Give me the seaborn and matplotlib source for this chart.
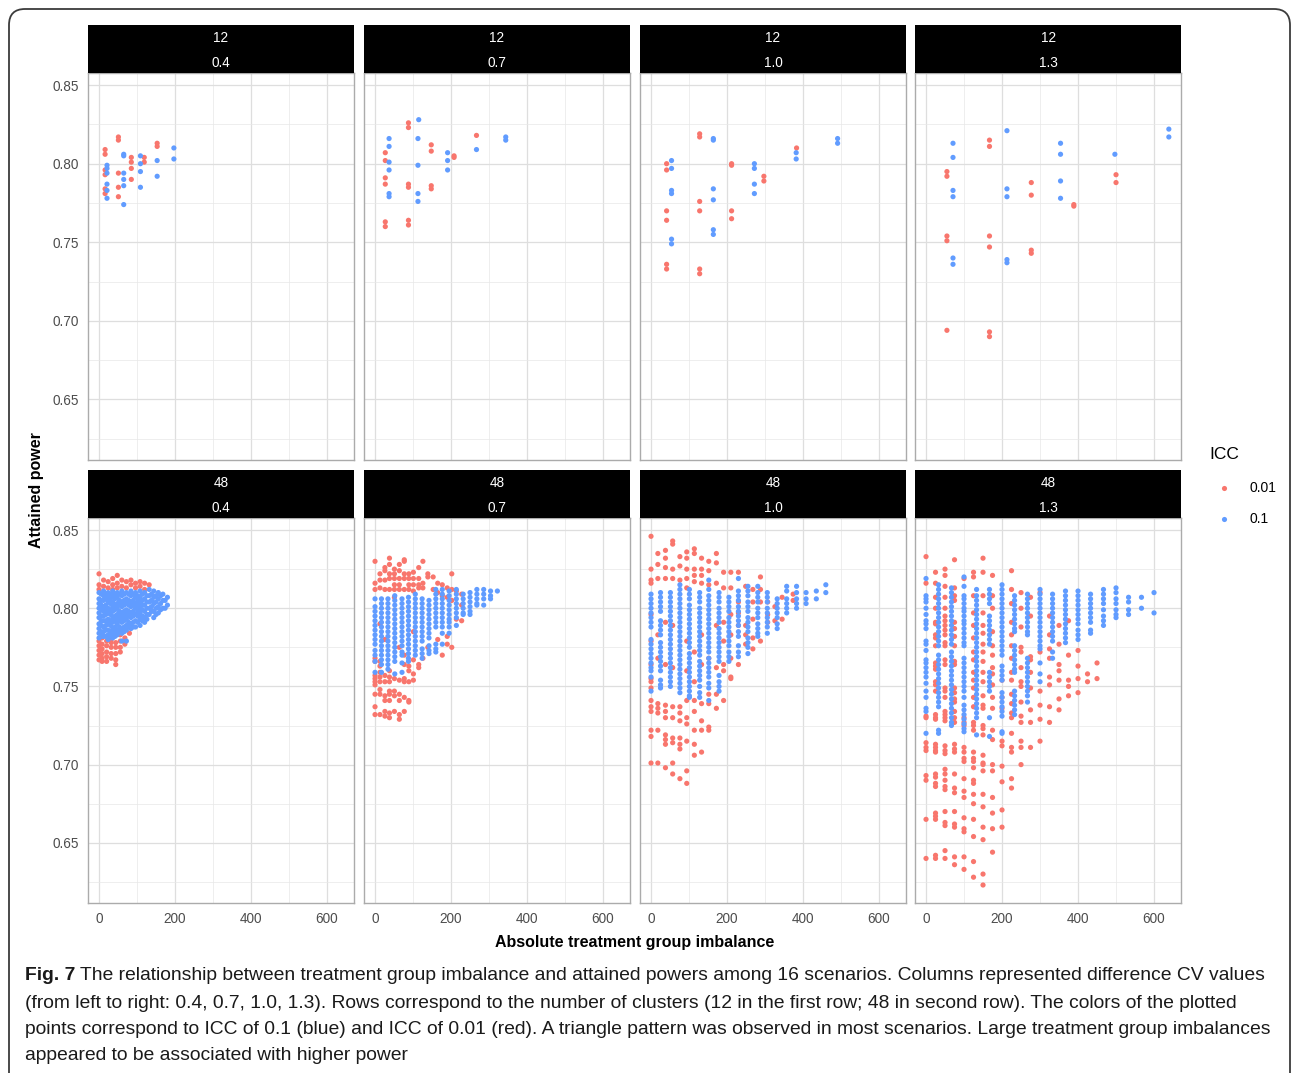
import matplotlib
matplotlib.use("Agg")
import matplotlib.pyplot as plt
import matplotlib.transforms as mtransforms
from matplotlib.patches import FancyBboxPatch
from matplotlib.lines import Line2D
import pandas as pd
import seaborn as sns

# ---------------- data ----------------
ICC_ORDER = ["0.01", "0.1"]
PALETTE = {"0.01": "#F8766D", "0.1": "#619CFF"}
CLUSTERS = [12, 48]
CVS = ["0.4", "0.7", "1.0", "1.3"]
X_TICKS = [0, 200, 400, 600]
Y_TICKS = [0.65, 0.70, 0.75, 0.80, 0.85]

# ---- 12 clusters (top row): explicit points ----
t04_red_x = [51, 51, 16, 16, 153, 153, 85, 85, 119, 119, 16, 16, 51, 85, 85, 16, 16, 51, 51]
t04_red_y = [0.817, 0.815, 0.809, 0.806, 0.813, 0.811, 0.804, 0.801, 0.804, 0.801, 0.796, 0.793,
             0.794, 0.797, 0.790, 0.784, 0.781, 0.785, 0.779]
t04_blue_x = [65, 65, 109, 109, 197, 197, 153, 21, 21, 21, 65, 65, 65, 109, 109, 153, 21, 21, 21, 65]
t04_blue_y = [0.806, 0.805, 0.805, 0.800, 0.810, 0.803, 0.802, 0.799, 0.797, 0.794, 0.794, 0.790,
              0.786, 0.795, 0.785, 0.792, 0.787, 0.783, 0.778, 0.774]

t07_red_x = [88, 88, 27, 27, 148, 148, 208, 208, 267, 27, 27, 88, 88, 148, 148, 27, 27, 88, 88]
t07_red_y = [0.826, 0.823, 0.807, 0.802, 0.812, 0.808, 0.805, 0.804, 0.818, 0.791, 0.787, 0.787,
             0.785, 0.786, 0.784, 0.763, 0.760, 0.764, 0.761]
t07_blue_x = [115, 37, 37, 113, 37, 37, 113, 191, 191, 191, 267, 344, 344, 37, 37, 113, 113]
t07_blue_y = [0.828, 0.816, 0.811, 0.816, 0.801, 0.796, 0.799, 0.807, 0.802, 0.796, 0.809, 0.817,
              0.815, 0.781, 0.779, 0.781, 0.776]

t10_red_x = [128, 128, 41, 41, 212, 212, 297, 297, 383, 41, 41, 128, 128, 212, 212, 41, 41, 128, 128]
t10_red_y = [0.819, 0.817, 0.800, 0.796, 0.800, 0.799, 0.792, 0.789, 0.810, 0.770, 0.764, 0.776,
             0.770, 0.770, 0.765, 0.736, 0.733, 0.733, 0.730]
t10_blue_x = [164, 164, 54, 54, 272, 272, 382, 382, 491, 491, 54, 54, 164, 164, 272, 272, 164, 164, 54, 54]
t10_blue_y = [0.816, 0.815, 0.802, 0.797, 0.800, 0.797, 0.807, 0.803, 0.816, 0.813, 0.783, 0.781,
              0.784, 0.777, 0.787, 0.781, 0.758, 0.755, 0.752, 0.749]

t13_red_x = [167, 167, 55, 55, 277, 277, 389, 389, 500, 500, 55, 55, 167, 167, 277, 277, 55, 167, 167]
t13_red_y = [0.815, 0.811, 0.795, 0.792, 0.788, 0.780, 0.774, 0.773, 0.793, 0.788, 0.754, 0.751,
             0.754, 0.747, 0.745, 0.743, 0.694, 0.693, 0.690]
t13_blue_x = [213, 71, 71, 354, 354, 497, 639, 639, 71, 71, 213, 213, 354, 354, 71, 71, 213, 213]
t13_blue_y = [0.821, 0.813, 0.804, 0.813, 0.806, 0.806, 0.822, 0.817, 0.783, 0.779, 0.784, 0.779,
              0.789, 0.778, 0.740, 0.736, 0.739, 0.737]

# ---- 48 clusters (bottom row): imbalance value -> attained powers ----
b04_red = {
    0: [0.822, 0.815, 0.812, 0.779, 0.776, 0.773, 0.770, 0.767],
    8: [0.781, 0.777, 0.774, 0.771, 0.768, 0.766],
    12: [0.818, 0.814],
    20: [0.779, 0.776, 0.772, 0.769, 0.766],
    24: [0.817, 0.813],
    32: [0.780, 0.778, 0.775, 0.771, 0.768],
    36: [0.819, 0.815, 0.812],
    44: [0.778, 0.775, 0.771, 0.767, 0.764],
    48: [0.821, 0.816, 0.813],
    56: [0.783, 0.779, 0.775, 0.772],
    60: [0.818, 0.814],
    68: [0.781, 0.777],
    72: [0.817, 0.813],
    80: [0.784],
    84: [0.818, 0.815],
    96: [0.816, 0.813],
    108: [0.817, 0.814],
    120: [0.816, 0.812],
    132: [0.815],
}
b04_blue = {
    0: [0.810, 0.806, 0.803, 0.800, 0.797, 0.794, 0.790, 0.787, 0.784, 0.781],
    6: [0.809, 0.805, 0.802, 0.799, 0.795, 0.792, 0.789, 0.785, 0.782],
    12: [0.811, 0.808, 0.805, 0.801, 0.798, 0.795, 0.792, 0.788, 0.785, 0.782],
    18: [0.809, 0.806, 0.802, 0.799, 0.796, 0.792, 0.789, 0.786, 0.782],
    24: [0.810, 0.807, 0.804, 0.800, 0.797, 0.793, 0.790, 0.786, 0.783, 0.780],
    30: [0.809, 0.806, 0.803, 0.799, 0.796, 0.792, 0.789, 0.785, 0.782],
    36: [0.811, 0.808, 0.804, 0.801, 0.798, 0.794, 0.791, 0.787, 0.784, 0.781],
    42: [0.809, 0.806, 0.802, 0.799, 0.795, 0.792, 0.788, 0.785, 0.782],
    48: [0.810, 0.807, 0.803, 0.800, 0.796, 0.793, 0.790, 0.786, 0.783],
    54: [0.809, 0.805, 0.802, 0.798, 0.795, 0.792, 0.788, 0.785],
    60: [0.811, 0.808, 0.804, 0.801, 0.797, 0.794, 0.791, 0.787, 0.784, 0.779],
    66: [0.809, 0.805, 0.802, 0.798, 0.795, 0.792, 0.788, 0.785],
    72: [0.810, 0.806, 0.803, 0.799, 0.796, 0.793, 0.789, 0.786, 0.779],
    78: [0.809, 0.805, 0.802, 0.798, 0.795, 0.791, 0.788],
    84: [0.811, 0.808, 0.804, 0.801, 0.797, 0.794, 0.790, 0.787],
    90: [0.809, 0.805, 0.802, 0.798, 0.795, 0.791, 0.788],
    96: [0.810, 0.807, 0.803, 0.800, 0.796, 0.792, 0.788],
    102: [0.808, 0.805, 0.802, 0.798, 0.795, 0.791],
    108: [0.811, 0.807, 0.804, 0.800, 0.797, 0.793, 0.789],
    114: [0.809, 0.805, 0.802, 0.799, 0.795, 0.792],
    120: [0.810, 0.806, 0.802, 0.798, 0.794, 0.791],
    126: [0.808, 0.804, 0.800, 0.796, 0.793],
    132: [0.812, 0.808, 0.804, 0.800, 0.796],
    138: [0.809, 0.805, 0.801, 0.798],
    144: [0.811, 0.807, 0.803, 0.798, 0.794],
    150: [0.808, 0.804, 0.800, 0.796],
    156: [0.810, 0.806, 0.801, 0.797],
    162: [0.808, 0.803, 0.799],
    168: [0.809, 0.805, 0.800],
    174: [0.805, 0.800],
    180: [0.807, 0.802],
}

b07_red = {
    0: [0.830, 0.816, 0.812, 0.768, 0.766, 0.757, 0.755, 0.753, 0.751, 0.745, 0.737, 0.732],
    13: [0.822, 0.818, 0.813, 0.790, 0.766, 0.763, 0.759, 0.756, 0.753, 0.748, 0.745, 0.732],
    26: [0.826, 0.824, 0.818, 0.812, 0.780, 0.757, 0.753, 0.744, 0.741, 0.734, 0.731],
    38: [0.832, 0.828, 0.822, 0.819, 0.812, 0.760, 0.756, 0.753, 0.747, 0.745, 0.741, 0.733, 0.730],
    51: [0.825, 0.822, 0.819, 0.815, 0.812, 0.807, 0.755, 0.747, 0.744, 0.734],
    64: [0.828, 0.824, 0.819, 0.815, 0.812, 0.775, 0.754, 0.745, 0.741, 0.732, 0.729],
    77: [0.831, 0.830, 0.822, 0.819, 0.812, 0.770, 0.764, 0.755, 0.753, 0.743, 0.734],
    89: [0.822, 0.819, 0.815, 0.812, 0.763, 0.760, 0.753, 0.741, 0.740],
    101: [0.823, 0.819, 0.815, 0.811, 0.785, 0.767, 0.758, 0.754],
    115: [0.826, 0.819, 0.815, 0.813, 0.764, 0.762],
    126: [0.830, 0.816, 0.813, 0.768],
    139: [0.822, 0.820, 0.775],
    153: [0.820, 0.812],
    165: [0.816, 0.810, 0.780],
    177: [0.815, 0.808, 0.770],
    190: [0.813, 0.807, 0.782, 0.777],
    202: [0.822, 0.812, 0.805, 0.775],
    214: [0.811, 0.793],
    228: [0.809, 0.802, 0.792],
}
b07_blue = {
    0: [0.806, 0.801, 0.798, 0.795, 0.792, 0.789, 0.786, 0.783, 0.780, 0.777, 0.773, 0.770, 0.766, 0.759],
    17: [0.806, 0.803, 0.800, 0.797, 0.794, 0.791, 0.788, 0.785, 0.782, 0.779, 0.776, 0.773, 0.770, 0.767, 0.764, 0.759],
    34: [0.806, 0.803, 0.800, 0.797, 0.794, 0.791, 0.788, 0.785, 0.782, 0.779, 0.776, 0.773, 0.770, 0.767, 0.764, 0.761],
    52: [0.808, 0.805, 0.802, 0.799, 0.796, 0.793, 0.790, 0.787, 0.784, 0.781, 0.778, 0.775, 0.772, 0.769, 0.766, 0.758],
    71: [0.806, 0.803, 0.800, 0.797, 0.794, 0.791, 0.788, 0.785, 0.782, 0.779, 0.776, 0.772, 0.770, 0.765, 0.759],
    88: [0.807, 0.804, 0.801, 0.798, 0.795, 0.792, 0.789, 0.786, 0.783, 0.780, 0.777, 0.774, 0.771, 0.768, 0.766],
    106: [0.809, 0.806, 0.803, 0.800, 0.797, 0.794, 0.791, 0.788, 0.785, 0.782, 0.779, 0.776, 0.773, 0.770],
    124: [0.806, 0.803, 0.800, 0.797, 0.794, 0.791, 0.788, 0.785, 0.782, 0.779, 0.774, 0.771, 0.768],
    142: [0.805, 0.802, 0.799, 0.796, 0.793, 0.790, 0.787, 0.784, 0.781, 0.776, 0.773, 0.771],
    160: [0.812, 0.809, 0.806, 0.803, 0.800, 0.797, 0.794, 0.791, 0.788, 0.777, 0.774, 0.772],
    177: [0.812, 0.809, 0.806, 0.803, 0.800, 0.797, 0.794, 0.791, 0.788, 0.784, 0.777],
    195: [0.811, 0.808, 0.805, 0.802, 0.799, 0.796, 0.793, 0.791, 0.788, 0.784],
    214: [0.812, 0.809, 0.806, 0.803, 0.800, 0.797, 0.794, 0.789],
    232: [0.809, 0.806, 0.803, 0.800, 0.797, 0.796],
    250: [0.810, 0.807, 0.804, 0.801, 0.798, 0.796],
    268: [0.812, 0.809, 0.806, 0.803, 0.802],
    286: [0.812, 0.809, 0.806, 0.802],
    304: [0.811, 0.808, 0.806],
    322: [0.811],
}

b10_red = {
    0: [0.846, 0.825, 0.818, 0.816, 0.796, 0.779, 0.764, 0.755, 0.753, 0.749, 0.741, 0.737, 0.734, 0.722, 0.718, 0.701],
    18: [0.835, 0.828, 0.819, 0.783, 0.768, 0.739, 0.736, 0.733, 0.722, 0.701],
    38: [0.837, 0.832, 0.826, 0.819, 0.791, 0.764, 0.738, 0.734, 0.730, 0.719, 0.716, 0.713, 0.698],
    57: [0.843, 0.841, 0.825, 0.819, 0.789, 0.762, 0.737, 0.730, 0.717, 0.714, 0.701, 0.694],
    76: [0.833, 0.827, 0.818, 0.737, 0.733, 0.728, 0.717, 0.713, 0.710, 0.691],
    94: [0.836, 0.832, 0.825, 0.819, 0.813, 0.779, 0.760, 0.741, 0.730, 0.726, 0.715, 0.696, 0.688],
    114: [0.838, 0.835, 0.825, 0.821, 0.817, 0.772, 0.753, 0.741, 0.734, 0.722, 0.713, 0.706],
    133: [0.832, 0.825, 0.821, 0.816, 0.783, 0.764, 0.739, 0.728, 0.722, 0.708],
    152: [0.830, 0.824, 0.815, 0.768, 0.745, 0.739, 0.724, 0.722],
    172: [0.835, 0.829, 0.816, 0.789, 0.762, 0.745, 0.736],
    191: [0.823, 0.813, 0.791, 0.779, 0.764, 0.760, 0.741],
    210: [0.823, 0.813, 0.796, 0.783, 0.768, 0.756, 0.755],
    230: [0.823, 0.804, 0.797, 0.789, 0.764],
    249: [0.814, 0.789, 0.783, 0.777],
    268: [0.812, 0.804, 0.793, 0.781, 0.774],
    288: [0.820, 0.812, 0.804, 0.779],
    307: [0.804, 0.796, 0.791],
    326: [0.801, 0.792],
    345: [0.807, 0.793],
    374: [0.809, 0.805],
}
b10_blue = {
    0: [0.809, 0.806, 0.803, 0.800, 0.797, 0.794, 0.791, 0.788, 0.780, 0.777, 0.774, 0.771, 0.768, 0.765, 0.762, 0.760, 0.756, 0.747],
    25: [0.810, 0.807, 0.804, 0.801, 0.798, 0.792, 0.789, 0.786, 0.783, 0.778, 0.775, 0.772, 0.769, 0.766, 0.763, 0.760, 0.754, 0.751, 0.749],
    51: [0.810, 0.807, 0.804, 0.801, 0.798, 0.795, 0.792, 0.789, 0.786, 0.783, 0.780, 0.777, 0.774, 0.771, 0.768, 0.765, 0.762, 0.759, 0.756, 0.753, 0.750],
    76: [0.815, 0.812, 0.809, 0.806, 0.803, 0.800, 0.797, 0.794, 0.791, 0.788, 0.785, 0.782, 0.779, 0.776, 0.773, 0.770, 0.767, 0.764, 0.761, 0.758, 0.755, 0.752, 0.749, 0.746],
    101: [0.812, 0.809, 0.806, 0.802, 0.799, 0.796, 0.793, 0.790, 0.787, 0.784, 0.781, 0.778, 0.775, 0.771, 0.768, 0.765, 0.762, 0.759, 0.756, 0.753, 0.750, 0.747, 0.744, 0.743],
    128: [0.810, 0.807, 0.804, 0.800, 0.797, 0.794, 0.791, 0.788, 0.785, 0.782, 0.779, 0.776, 0.773, 0.770, 0.766, 0.763, 0.760, 0.757, 0.754, 0.750, 0.746, 0.743],
    152: [0.818, 0.812, 0.808, 0.805, 0.802, 0.799, 0.796, 0.793, 0.790, 0.787, 0.784, 0.781, 0.778, 0.775, 0.772, 0.768, 0.765, 0.762, 0.759, 0.756, 0.752, 0.749, 0.741],
    179: [0.810, 0.807, 0.804, 0.800, 0.797, 0.794, 0.791, 0.787, 0.784, 0.781, 0.778, 0.775, 0.772, 0.769, 0.766, 0.757, 0.753, 0.750, 0.747],
    205: [0.807, 0.804, 0.801, 0.798, 0.794, 0.791, 0.788, 0.785, 0.782, 0.779, 0.776, 0.772, 0.769, 0.766],
    230: [0.819, 0.811, 0.808, 0.805, 0.801, 0.798, 0.795, 0.792, 0.789, 0.785, 0.782, 0.776, 0.772, 0.769],
    255: [0.814, 0.811, 0.808, 0.804, 0.801, 0.798, 0.794, 0.791, 0.788, 0.785, 0.781, 0.778, 0.775, 0.771],
    281: [0.814, 0.810, 0.807, 0.804, 0.800, 0.797, 0.794, 0.790, 0.787, 0.784, 0.782],
    306: [0.810, 0.807, 0.804, 0.800, 0.797, 0.794, 0.791, 0.788, 0.784],
    332: [0.806, 0.803, 0.800, 0.797, 0.794, 0.790, 0.787],
    357: [0.814, 0.811, 0.806, 0.803, 0.800, 0.797],
    383: [0.814, 0.810, 0.806, 0.803, 0.800],
    408: [0.810, 0.806, 0.803],
    435: [0.811, 0.806],
    460: [0.815, 0.810],
}

b13_red = {
    0: [0.833, 0.816, 0.731, 0.730, 0.714, 0.711, 0.709, 0.693, 0.690, 0.665, 0.640],
    25: [0.823, 0.816, 0.807, 0.800, 0.791, 0.790, 0.783, 0.781, 0.776, 0.765, 0.763, 0.761, 0.753, 0.751,
         0.747, 0.732, 0.730, 0.729, 0.713, 0.711, 0.709, 0.708, 0.694, 0.692, 0.688, 0.686, 0.669, 0.667,
         0.665, 0.642, 0.640],
    50: [0.825, 0.821, 0.814, 0.807, 0.800, 0.795, 0.792, 0.789, 0.786, 0.783, 0.778, 0.776, 0.767, 0.764,
         0.749, 0.747, 0.743, 0.734, 0.732, 0.730, 0.728, 0.712, 0.709, 0.707, 0.697, 0.694, 0.690, 0.686,
         0.684, 0.670, 0.663, 0.661, 0.645, 0.640],
    75: [0.831, 0.813, 0.808, 0.805, 0.791, 0.787, 0.782, 0.776, 0.766, 0.764, 0.749, 0.746, 0.742, 0.740,
         0.734, 0.730, 0.727, 0.713, 0.710, 0.708, 0.694, 0.685, 0.682, 0.670, 0.662, 0.660, 0.641, 0.636],
    100: [0.819, 0.730, 0.727, 0.725, 0.711, 0.708, 0.704, 0.702, 0.691, 0.683, 0.679, 0.666, 0.659, 0.657,
          0.641, 0.633],
    125: [0.823, 0.820, 0.808, 0.797, 0.789, 0.781, 0.772, 0.767, 0.759, 0.754, 0.749, 0.743, 0.737, 0.727,
          0.725, 0.722, 0.708, 0.704, 0.702, 0.698, 0.690, 0.688, 0.681, 0.675, 0.665, 0.654, 0.638, 0.628],
    150: [0.832, 0.823, 0.808, 0.797, 0.789, 0.784, 0.777, 0.772, 0.766, 0.759, 0.753, 0.744, 0.738, 0.736,
          0.725, 0.723, 0.719, 0.706, 0.701, 0.700, 0.696, 0.681, 0.673, 0.660, 0.652, 0.630, 0.623],
    175: [0.821, 0.808, 0.800, 0.785, 0.776, 0.770, 0.762, 0.758, 0.751, 0.743, 0.736, 0.722, 0.716, 0.700,
          0.696, 0.679, 0.669, 0.659, 0.644],
    200: [0.754, 0.743, 0.736, 0.715, 0.712, 0.699, 0.689, 0.671, 0.660],
    225: [0.824, 0.812, 0.803, 0.791, 0.783, 0.776, 0.768, 0.759, 0.754, 0.745, 0.739, 0.733, 0.730, 0.720,
          0.711, 0.708, 0.691, 0.685],
    250: [0.810, 0.800, 0.788, 0.775, 0.772, 0.762, 0.753, 0.750, 0.740, 0.731, 0.727, 0.715, 0.711, 0.700],
    275: [0.807, 0.795, 0.769, 0.767, 0.759, 0.749, 0.735, 0.727, 0.711],
    300: [0.810, 0.772, 0.747, 0.738, 0.729, 0.715],
    325: [0.795, 0.783, 0.774, 0.768, 0.756, 0.751, 0.737, 0.727],
    350: [0.789, 0.777, 0.764, 0.760, 0.754, 0.742, 0.735],
    375: [0.792, 0.770, 0.754, 0.750, 0.744],
    400: [0.773, 0.763, 0.755, 0.746],
    425: [0.758, 0.753],
    450: [0.765, 0.755],
}
b13_blue = {
    0: [0.819, 0.808, 0.806, 0.804, 0.800, 0.796, 0.792, 0.790, 0.787, 0.779, 0.777, 0.773, 0.767, 0.765,
        0.762, 0.759, 0.756, 0.752, 0.747, 0.743, 0.736, 0.734, 0.720],
    33: [0.815, 0.812, 0.809, 0.806, 0.803, 0.800, 0.797, 0.794, 0.791, 0.788, 0.785, 0.782, 0.779, 0.776,
         0.770, 0.767, 0.764, 0.761, 0.758, 0.755, 0.752, 0.749, 0.746, 0.743, 0.740, 0.737, 0.722, 0.720],
    67: [0.813, 0.810, 0.807, 0.804, 0.801, 0.798, 0.795, 0.792, 0.789, 0.786, 0.783, 0.780, 0.777, 0.772,
         0.769, 0.766, 0.763, 0.760, 0.757, 0.754, 0.751, 0.748, 0.745, 0.742, 0.739, 0.736, 0.733, 0.730,
         0.727, 0.725],
    100: [0.820, 0.814, 0.808, 0.806, 0.803, 0.800, 0.798, 0.795, 0.792, 0.790, 0.787, 0.784, 0.781, 0.778,
          0.776, 0.768, 0.765, 0.762, 0.759, 0.756, 0.753, 0.750, 0.747, 0.743, 0.738, 0.735, 0.732, 0.729,
          0.726, 0.723, 0.721],
    133: [0.812, 0.808, 0.805, 0.802, 0.799, 0.796, 0.793, 0.790, 0.787, 0.784, 0.781, 0.778, 0.775, 0.772,
          0.769, 0.766, 0.763, 0.760, 0.757, 0.754, 0.751, 0.748, 0.745, 0.742, 0.739, 0.736, 0.733, 0.730,
          0.719],
    167: [0.812, 0.809, 0.806, 0.803, 0.795, 0.792, 0.789, 0.786, 0.783, 0.780, 0.777, 0.759, 0.756, 0.753,
          0.750, 0.747, 0.730, 0.718],
    200: [0.815, 0.812, 0.809, 0.806, 0.803, 0.800, 0.797, 0.794, 0.791, 0.788, 0.785, 0.782, 0.779, 0.776,
          0.773, 0.770, 0.763, 0.760, 0.757, 0.754, 0.746, 0.743, 0.740, 0.737, 0.734, 0.731, 0.721, 0.720],
    233: [0.808, 0.805, 0.802, 0.799, 0.796, 0.793, 0.790, 0.787, 0.785, 0.776, 0.773, 0.770, 0.767, 0.764,
          0.761, 0.759, 0.747, 0.744, 0.741, 0.738, 0.735, 0.732],
    267: [0.809, 0.806, 0.803, 0.800, 0.797, 0.794, 0.791, 0.788, 0.785, 0.783, 0.768, 0.765, 0.762, 0.759,
          0.756, 0.753, 0.750, 0.747, 0.744, 0.740],
    300: [0.812, 0.809, 0.806, 0.803, 0.800, 0.797, 0.794, 0.791, 0.788, 0.785, 0.782, 0.779, 0.776, 0.774,
          0.765, 0.758, 0.753],
    333: [0.809, 0.806, 0.803, 0.800, 0.797, 0.794, 0.791, 0.788, 0.785, 0.782, 0.779, 0.772, 0.768],
    367: [0.811, 0.808, 0.805, 0.802, 0.799, 0.796, 0.793, 0.790, 0.787, 0.784, 0.781, 0.778],
    400: [0.811, 0.808, 0.805, 0.802, 0.799, 0.796, 0.793, 0.790, 0.786, 0.783, 0.780],
    433: [0.809, 0.806, 0.803, 0.800, 0.797, 0.794, 0.791, 0.786, 0.784],
    467: [0.812, 0.809, 0.806, 0.803, 0.799, 0.795, 0.792, 0.789],
    500: [0.813, 0.810, 0.806, 0.803, 0.799, 0.796, 0.794],
    533: [0.807, 0.804, 0.799, 0.796],
    567: [0.807, 0.800],
    600: [0.810, 0.797],
}

CAPTION_LINES = [
    "The relationship between treatment group imbalance and attained powers among 16 scenarios. Columns represented difference CV values",
    "(from left to right: 0.4, 0.7, 1.0, 1.3). Rows correspond to the number of clusters (12 in the first row; 48 in second row). The colors of the plotted",
    "points correspond to ICC of 0.1 (blue) and ICC of 0.01 (red). A triangle pattern was observed in most scenarios. Large treatment group imbalances",
    "appeared to be associated with higher power",
]

# ---------------- build long table ----------------
rows = []


def add_xy(clusters, cv, icc, xs, ys):
    for x, y in zip(xs, ys):
        rows.append((clusters, cv, icc, x, y))


def add_cols(clusters, cv, icc, cols):
    for x, ys in cols.items():
        for y in ys:
            rows.append((clusters, cv, icc, x, y))


add_xy(12, "0.4", "0.01", t04_red_x, t04_red_y)
add_xy(12, "0.4", "0.1", t04_blue_x, t04_blue_y)
add_xy(12, "0.7", "0.01", t07_red_x, t07_red_y)
add_xy(12, "0.7", "0.1", t07_blue_x, t07_blue_y)
add_xy(12, "1.0", "0.01", t10_red_x, t10_red_y)
add_xy(12, "1.0", "0.1", t10_blue_x, t10_blue_y)
add_xy(12, "1.3", "0.01", t13_red_x, t13_red_y)
add_xy(12, "1.3", "0.1", t13_blue_x, t13_blue_y)
add_cols(48, "0.4", "0.01", b04_red)
add_cols(48, "0.4", "0.1", b04_blue)
add_cols(48, "0.7", "0.01", b07_red)
add_cols(48, "0.7", "0.1", b07_blue)
add_cols(48, "1.0", "0.01", b10_red)
add_cols(48, "1.0", "0.1", b10_blue)
add_cols(48, "1.3", "0.01", b13_red)
add_cols(48, "1.3", "0.1", b13_blue)

df = pd.DataFrame(rows, columns=["clusters", "cv", "ICC", "imbalance", "power"])

# ---------------- figure ----------------
sns.set_theme(style="white")
plt.rcParams["font.family"] = ["Liberation Sans", "DejaVu Sans"]

W, H = 1292, 1073
fig = plt.figure(figsize=(W / 100, H / 100), dpi=100)


def fx(px):
    return px / W


def fy(py):
    return 1 - py / H


col_left = [88, 364, 640, 915]
col_w = 266
row_panel = [(73, 460), (518, 903)]
row_strip = [(25, 73), (470, 518)]

XLIM = (-29, 671)
YLIM = (0.6115, 0.8577)

for r, cl in enumerate(CLUSTERS):
    for c, cv in enumerate(CVS):
        top, bot = row_panel[r]
        ax = fig.add_axes([fx(col_left[c]), fy(bot), col_w / W, (bot - top) / H])
        sub = df[(df.clusters == cl) & (df.cv == cv)].copy()
        sub["order"] = sub["ICC"].map({"0.01": 0, "0.1": 1})
        sub = sub.sort_values("order", kind="stable")
        sns.scatterplot(data=sub, x="imbalance", y="power", hue="ICC", hue_order=ICC_ORDER,
                        palette=PALETTE, s=14, linewidth=0, alpha=1, legend=False, ax=ax)
        ax.set_xlim(*XLIM)
        ax.set_ylim(*YLIM)
        ax.set_xticks(X_TICKS)
        ax.set_xticks([100, 300, 500], minor=True)
        ax.set_yticks(Y_TICKS)
        ax.set_yticks([0.625, 0.675, 0.725, 0.775, 0.825], minor=True)
        ax.grid(True, which="major", color="#DEDEDE", linewidth=0.9)
        ax.grid(True, which="minor", color="#E8E8E8", linewidth=0.5)
        ax.set_axisbelow(True)
        ax.set_facecolor("white")
        for sp in ax.spines.values():
            sp.set_color("#ABABAB")
            sp.set_linewidth(1.0)
        ax.set_xlabel("")
        ax.set_ylabel("")
        ax.tick_params(which="minor", length=0)
        ax.tick_params(which="major", colors="#B3B3B3", length=3, width=0.8,
                       labelcolor="#4D4D4D", labelsize=9.8, pad=3.5)
        if c == 0:
            ax.set_yticklabels([f"{v:.2f}" for v in Y_TICKS])
        else:
            ax.tick_params(axis="y", length=0, labelleft=False)
        if r == 1:
            ax.set_xticklabels([str(v) for v in X_TICKS])
        else:
            ax.tick_params(axis="x", length=0, labelbottom=False)

        # strip
        st, sb = row_strip[r]
        sax = fig.add_axes([fx(col_left[c]), fy(sb), col_w / W, (sb - st) / H])
        sax.set_facecolor("black")
        sax.set_xticks([])
        sax.set_yticks([])
        for sp in sax.spines.values():
            sp.set_visible(False)
        sax.text(0.5, 0.72, str(cl), color="white", ha="center", va="center",
                 fontsize=9.8, transform=sax.transAxes)
        sax.text(0.5, 0.21, cv, color="white", ha="center", va="center",
                 fontsize=9.8, transform=sax.transAxes)

# axis titles
fig.text(fx(37), fy(490), "Attained power", rotation=90, ha="center", va="center",
         fontsize=11.5, fontweight="bold", color="black")
fig.text(fx(635), fy(942), "Absolute treatment group imbalance", ha="center", va="center",
         fontsize=11.5, fontweight="bold", color="black")

# legend
fig.text(fx(1209), fy(455), "ICC", ha="left", va="center", fontsize=12.5, color="black")
for lab, py in zip(ICC_ORDER, [488, 519]):
    fig.add_artist(Line2D([fx(1224)], [fy(py)], marker="o", linestyle="none",
                          markersize=3.7, markeredgewidth=0, color=PALETTE[lab],
                          transform=fig.transFigure))
    fig.text(fx(1249), fy(py), lab, ha="left", va="center", fontsize=10, color="black")

# frame
frame = FancyBboxPatch((9, -30), 1281, 1073 - 9 + 30, boxstyle="round,pad=0,rounding_size=16",
                       transform=mtransforms.IdentityTransform(), facecolor="none",
                       edgecolor="#3C3C3C", linewidth=1.3)
fig.add_artist(frame)

# caption: size chosen so that the widest line fits within x = 25 .. 1266 px
renderer = fig.canvas.get_renderer()
cap_y = [976, 1003, 1030, 1056]
fs0 = 13.0
probe_a = fig.text(0, 0, "Fig. 7", fontsize=fs0, fontweight="bold")
widths = []
probes = [fig.text(0, 0, ln, fontsize=fs0) for ln in CAPTION_LINES]
w_bold = probe_a.get_window_extent(renderer=renderer).width + 5
for i, p in enumerate(probes):
    w = p.get_window_extent(renderer=renderer).width
    widths.append(w + (w_bold if i == 0 else 0))
    p.remove()
probe_a.remove()
cap_fs = fs0 * (1266 - 25) / max(widths)

t0 = fig.text(fx(25), fy(cap_y[0]), "Fig. 7", ha="left", va="center", fontsize=cap_fs,
              fontweight="bold", color="#1a1a1a")
bb = t0.get_window_extent(renderer=renderer)
fig.text((bb.x1 + 5) / W, fy(cap_y[0]), CAPTION_LINES[0], ha="left", va="center",
         fontsize=cap_fs, color="#1a1a1a")
for line, py in zip(CAPTION_LINES[1:], cap_y[1:]):
    fig.text(fx(25), fy(py), line, ha="left", va="center", fontsize=cap_fs, color="#1a1a1a")

fig.savefig("out.png", dpi=100)
